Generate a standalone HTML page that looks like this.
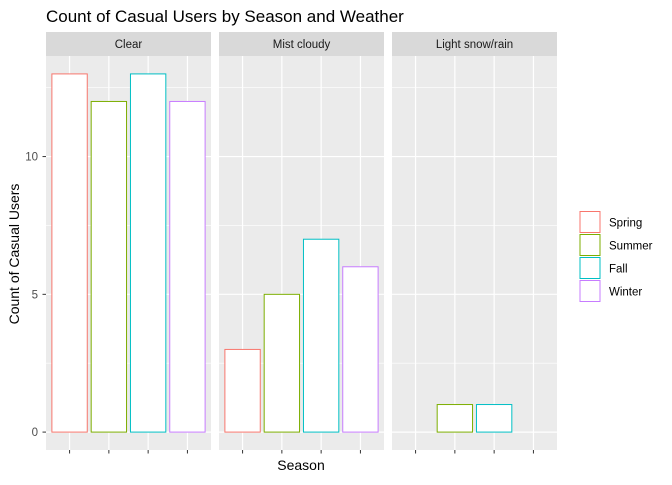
<!DOCTYPE html>
<html><head><meta charset="utf-8"><style>
body{margin:0;background:#fff;}
text{font-family:"Liberation Sans",Arial,sans-serif;}
</style></head><body>
<svg id="chart" width="672" height="480" xmlns="http://www.w3.org/2000/svg">
<text x="46" y="22" font-size="17" fill="#000">Count of Casual Users by Season and Weather</text>
<text x="301" y="470" font-size="14" text-anchor="middle" fill="#000">Season</text>
<text transform="translate(19,254) rotate(-90)" font-size="14" text-anchor="middle" fill="#000">Count of Casual Users</text>
<g id="panels"></g>
<g id="legend"></g>
</svg>
<script>
const facets = ["Clear", "Mist cloudy", "Light snow/rain"];
const seasons = ["Spring", "Summer", "Fall", "Winter"];
const colors = ["#F8766D", "#7CAE00", "#00BFC4", "#C77CFF"];
const clearValues = [13, 12, 13, 12];
const mistValues = [3, 5, 7, 6];
const lightValues = [null, 1, 1, null];
const yTicks = [0, 5, 10];
const yMinor = [2.5, 7.5, 12.5];

const NS = "http://www.w3.org/2000/svg";
const panelsG = document.getElementById("panels");
const plotTop = 56, plotBottom = 450, stripTop = 32;
const yMin = -0.65, yMax = 13.65;
const pw = 165, gap = 8, x0 = 46;
function y(v){ return plotBottom - (v - yMin) / (yMax - yMin) * (plotBottom - plotTop); }
function xs(p, i){ const l = x0 + p * (pw + gap); return l + (i + 1 - 0.4) / 4.2 * pw; }
function mk(tag, attrs, parent){ const e = document.createElementNS(NS, tag); for (const k in attrs) e.setAttribute(k, attrs[k]); parent.appendChild(e); return e; }
const allVals = [clearValues, mistValues, lightValues];
facets.forEach((f, p) => {
  const l = x0 + p * (pw + gap);
  const g = mk("g", {}, panelsG);
  
  
  const strip = mk("rect", {x: l, y: stripTop, width: pw, height: plotTop - stripTop, fill: "#D9D9D9"}, g);
  
  
  const st = mk("text", {x: l + pw / 2, y: stripTop + 16, "font-size": "11.5", "text-anchor": "middle", fill: "#1A1A1A"}, g);
  st.textContent = f;
  
  
  const bg = mk("rect", {x: l, y: plotTop, width: pw, height: plotBottom - plotTop, fill: "#EBEBEB"}, g);
  
  
  yMinor.forEach(v => { const ln = mk("line", {x1: l, x2: l + pw, y1: y(v), y2: y(v), stroke: "#fff", "stroke-width": 0.6}, g);   });
  yTicks.forEach(v => { const ln = mk("line", {x1: l, x2: l + pw, y1: y(v), y2: y(v), stroke: "#fff", "stroke-width": 1.2}, g);   });
  seasons.forEach((s, i) => {
    const cx = xs(p, i);
    const ln = mk("line", {x1: cx, x2: cx, y1: plotTop, y2: plotBottom, stroke: "#fff", "stroke-width": 1.2}, g);
    
    
    const tk = mk("line", {x1: cx, x2: cx, y1: plotBottom, y2: plotBottom + 3.5, stroke: "#333", "stroke-width": 1}, g);
    
    
  });
  allVals[p].forEach((v, i) => {
    if (v === null) return;
    const cx = xs(p, i), w = 0.9 / 4.2 * pw;
    const r = mk("rect", {x: cx - w / 2, y: y(v), width: w, height: y(0) - y(v), fill: "#fff", stroke: colors[i], "stroke-width": 1}, g);
    
    
  });
});
yTicks.forEach(v => {
  const t = mk("text", {x: 38, y: y(v) + 4, "font-size": "11.5", "text-anchor": "end", fill: "#4D4D4D"}, panelsG);
  t.textContent = v;
  
  
  const tk = mk("line", {x1: 42.5, x2: 46, y1: y(v), y2: y(v), stroke: "#333", "stroke-width": 1}, panelsG);
  
  
});
const lg = document.getElementById("legend");
seasons.forEach((s, i) => {
  const ky = 211 + i * 23;
  const g = mk("g", {}, lg);
  
  
  mk("rect", {x: 579.5, y: ky, width: 21, height: 22, fill: "#F2F2F2", stroke: "none"}, g);
  mk("rect", {x: 580, y: ky + 0.5, width: 20, height: 21, fill: "#fff", stroke: colors[i], "stroke-width": 1}, g);
  const t = mk("text", {x: 609, y: ky + 15.5, "font-size": "11.5", fill: "#000"}, g);
  t.textContent = s;
});
</script>
</body></html>
